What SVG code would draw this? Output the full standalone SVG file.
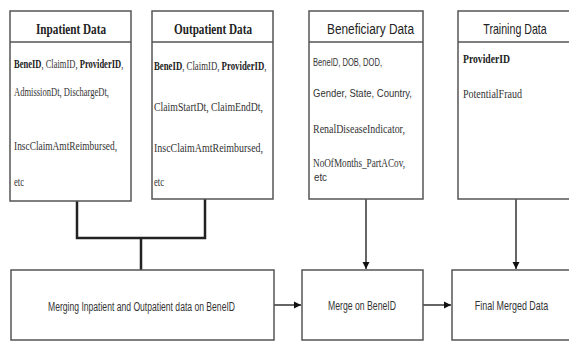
<svg xmlns="http://www.w3.org/2000/svg" width="569" height="341" viewBox="0 0 569 341">
<style>
.box{fill:#fff;stroke:#555;stroke-width:1.5}
.edge{fill:none;stroke:#555;stroke-width:1.5}
.sep{stroke:#555;stroke-width:1.5}
.st{font-family:"Liberation Serif",serif;font-weight:bold;font-size:15px;fill:#222}
.ss{font-family:"Liberation Sans",Arial,sans-serif;font-size:14px;fill:#222}
.bs{font-family:"Liberation Serif",serif;font-size:12px;fill:#333}
.bb{font-family:"Liberation Serif",serif;font-size:12px;fill:#222;font-weight:bold}
.b{font-weight:bold;fill:#222}
.bsans{font-family:"Liberation Sans",Arial,sans-serif;font-size:11px;fill:#333}
.lbl{font-family:"Liberation Sans",Arial,sans-serif;font-size:12.5px;fill:#333}
.thick{fill:none;stroke:#222;stroke-width:2.5}
.arr{fill:none;stroke:#333;stroke-width:1.5;marker-end:url(#ah)}
</style>
<defs>
<marker id="ah" markerWidth="8" markerHeight="8" refX="7" refY="4" orient="auto" markerUnits="userSpaceOnUse">
<path d="M0,0.5 L7,4 L0,7.5 Z" fill="#111"/>
</marker>
</defs>
<rect width="569" height="341" fill="#fff"/>
<g id="connectors">
<polyline class="thick" points="77,201 77,238 205,238 205,199"/>
<line class="thick" x1="141" y1="238" x2="141" y2="270"/>
<line class="arr" x1="366" y1="199" x2="366" y2="269"/>
<line class="arr" x1="516" y1="199" x2="516" y2="269"/>
<line class="arr" x1="274" y1="305" x2="301" y2="305"/>
<line class="arr" x1="423" y1="305" x2="451" y2="305"/>
</g>
<g id="inpatient">
<rect class="box" x="10" y="11" width="121" height="190"/>
<line class="sep" x1="10" y1="42" x2="131" y2="42"/>
<text class="st" x="36" y="34" textLength="70" lengthAdjust="spacingAndGlyphs">Inpatient Data</text>
<text class="bs" transform="translate(14,68) scale(0.71,1)"><tspan class="b">BeneID</tspan>, ClaimID, <tspan class="b">ProviderID</tspan>,</text>
<text class="bs" x="14" y="96" textLength="95" lengthAdjust="spacingAndGlyphs">AdmissionDt, DischargeDt,</text>
<text class="bs" x="14" y="150" textLength="103" lengthAdjust="spacingAndGlyphs">InscClaimAmtReimbursed,</text>
<text class="bs" x="14" y="186" textLength="10" lengthAdjust="spacingAndGlyphs">etc</text>
</g>
<g id="outpatient">
<rect class="box" x="152" y="11" width="121" height="188"/>
<line class="sep" x1="152" y1="42" x2="273" y2="42"/>
<text class="st" x="174" y="34" textLength="78" lengthAdjust="spacingAndGlyphs">Outpatient Data</text>
<text class="bs" transform="translate(154,70) scale(0.73,1)"><tspan class="b">BeneID</tspan>, ClaimID, <tspan class="b">ProviderID</tspan>,</text>
<text class="bs" x="154" y="111" textLength="109" lengthAdjust="spacingAndGlyphs">ClaimStartDt, ClaimEndDt,</text>
<text class="bs" x="154" y="152" textLength="109" lengthAdjust="spacingAndGlyphs">InscClaimAmtReimbursed,</text>
<text class="bs" x="154" y="186" textLength="10" lengthAdjust="spacingAndGlyphs">etc</text>
</g>
<g id="beneficiary">
<rect class="box" x="309" y="11" width="114" height="188"/>
<line class="sep" x1="309" y1="42" x2="423" y2="42"/>
<text class="ss" x="327" y="34" textLength="87" lengthAdjust="spacingAndGlyphs">Beneficiary Data</text>
<text class="bsans" x="313" y="66" textLength="69" lengthAdjust="spacingAndGlyphs">BeneID, DOB, DOD,</text>
<text class="bsans" x="313" y="97" textLength="99" lengthAdjust="spacingAndGlyphs">Gender, State, Country,</text>
<text class="bs" x="313" y="133" textLength="92" lengthAdjust="spacingAndGlyphs">RenalDiseaseIndicator,</text>
<text class="bs" x="313" y="167" textLength="92" lengthAdjust="spacingAndGlyphs">NoOfMonths_PartACov,</text>
<text class="bsans" x="314" y="181" textLength="13" lengthAdjust="spacingAndGlyphs" font-size="10">etc</text>
</g>
<g id="training">
<rect x="458" y="11" width="111" height="188" fill="#fff"/>
<path class="edge" d="M569,11 H458 V199 H569"/>
<line class="sep" x1="458" y1="42" x2="569" y2="42"/>
<text class="ss" text-anchor="middle" transform="translate(515,34) scale(0.76,1)">Training Data</text>
<text class="bb" x="463" y="63" textLength="47" lengthAdjust="spacingAndGlyphs">ProviderID</text>
<text class="bs" x="463" y="98" textLength="59" lengthAdjust="spacingAndGlyphs">PotentialFraud</text>
</g>
<g id="merging">
<rect class="box" x="11" y="270" width="263" height="70"/>
<text class="lbl" x="48" y="311" textLength="187" lengthAdjust="spacingAndGlyphs">Merging Inpatient and Outpatient data on BeneID</text>
</g>
<g id="merge">
<rect class="box" x="302" y="270" width="121" height="70"/>
<text class="lbl" x="328" y="310" textLength="68" lengthAdjust="spacingAndGlyphs">Merge on BeneID</text>
</g>
<g id="final">
<rect x="452" y="270" width="117" height="70" fill="#fff"/>
<path class="edge" d="M569,270 H452 V340 H569"/>
<text class="lbl" text-anchor="middle" transform="translate(511.5,310) scale(0.715,1)">Final Merged Data</text>
</g>
</svg>
